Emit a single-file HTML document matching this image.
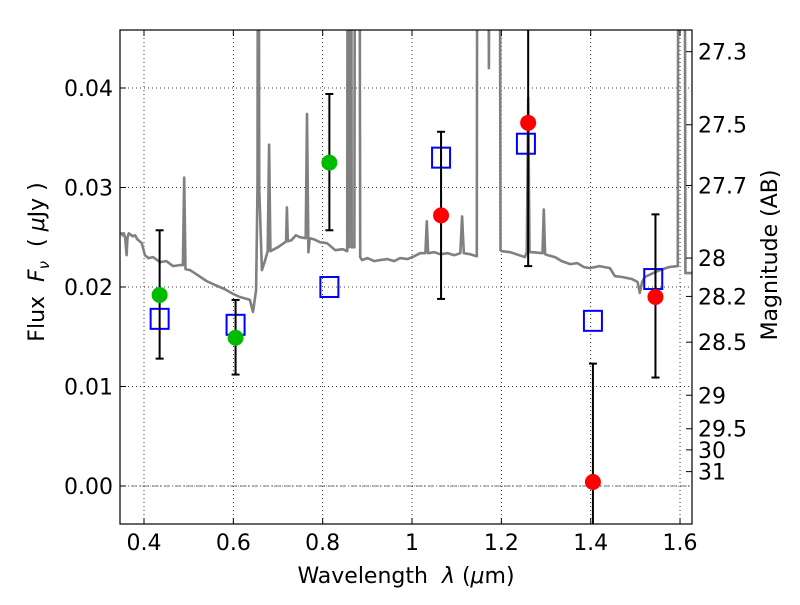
<!DOCTYPE html>
<html><head><meta charset="utf-8"><style>
body{margin:0;background:#fff}
svg text{font-family:"DejaVu Sans","Liberation Sans",sans-serif;fill:#000}
</style></head><body>
<svg id="chart" width="800" height="600" xmlns="http://www.w3.org/2000/svg">
<rect width="800" height="600" fill="#fff"/>
<g id="grid"></g>
<g id="spec"></g>
<g id="marks"></g>
<g id="axes"></g>
<text x="406" y="583" font-size="22" text-anchor="middle">Wavelength&#160;&#160;<tspan font-style="italic">λ</tspan> (<tspan font-style="italic">μ</tspan>m)</text>
<text x="0" y="0" font-size="22" text-anchor="middle" transform="translate(44,262) rotate(-90)">Flux&#160;&#160;<tspan font-style="italic">F</tspan><tspan font-style="italic" font-size="15" dy="5">ν</tspan><tspan dy="-5">&#160;&#160;( </tspan><tspan font-style="italic">μ</tspan>Jy )</text>
<text x="0" y="0" font-size="22" text-anchor="middle" transform="translate(777,255) rotate(-90)">Magnitude (AB)</text>
</svg>
<script>
const specWl=[0.349,0.352,0.355,0.358,0.361,0.363,0.366,0.369,0.375,0.38,0.385,0.39,0.395,0.402,0.41,0.42,0.436,0.45,0.465,0.48,0.487,0.49,0.493,0.503,0.52,0.54,0.559,0.58,0.6,0.615,0.63,0.637,0.644,0.651,0.654,0.656,0.658,0.664,0.67,0.677,0.68,0.683,0.687,0.7,0.716,0.718,0.72,0.722,0.73,0.74,0.75,0.762,0.765,0.768,0.771,0.78,0.794,0.81,0.828,0.845,0.855,0.857,0.859,0.861,0.863,0.865,0.871,0.873,0.875,0.879,0.881,0.884,0.888,0.9,0.915,0.928,0.945,0.96,0.973,0.99,1.005,1.018,1.03,1.033,1.036,1.05,1.063,1.08,1.095,1.108,1.112,1.116,1.13,1.145,1.147,1.149,1.168,1.172,1.176,1.195,1.198,1.201,1.22,1.24,1.253,1.257,1.26,1.263,1.27,1.292,1.295,1.298,1.304,1.32,1.335,1.354,1.37,1.385,1.398,1.42,1.443,1.454,1.47,1.492,1.505,1.51,1.515,1.521,1.535,1.555,1.575,1.595,1.597,1.599,1.609,1.612,1.63];
const specFl=[0.0255,0.0252,0.0254,0.0249,0.0232,0.025,0.0254,0.0253,0.0251,0.0252,0.0248,0.0246,0.0244,0.0232,0.0229,0.023,0.0225,0.0226,0.0221,0.0222,0.0222,0.031,0.0218,0.0217,0.0212,0.0206,0.0202,0.0198,0.0193,0.019,0.0188,0.0187,0.0175,0.0197,0.03,0.1,0.03,0.0217,0.0225,0.0236,0.0343,0.0236,0.0237,0.024,0.0245,0.0246,0.028,0.0246,0.0247,0.0252,0.025,0.0249,0.0374,0.0235,0.0249,0.0248,0.0245,0.0244,0.0237,0.0238,0.0236,0.1,0.024,0.1,0.1,0.024,0.024,0.1,0.1,0.1,0.1,0.023,0.0227,0.0229,0.0226,0.0227,0.0228,0.0226,0.0229,0.0228,0.0231,0.0234,0.0234,0.0266,0.0234,0.0235,0.0233,0.0234,0.0232,0.0234,0.0271,0.0234,0.0233,0.0231,0.1,0.1,0.1,0.042,0.1,0.1,0.0237,0.0236,0.0235,0.0232,0.023,0.0235,0.039,0.0235,0.0235,0.0234,0.0278,0.0233,0.0232,0.023,0.0226,0.0223,0.0224,0.022,0.0219,0.0221,0.0219,0.0211,0.021,0.0208,0.0205,0.0194,0.0205,0.021,0.0213,0.0217,0.022,0.0221,0.1,0.1,0.1,0.0214,0.0214];
const greenWl=[0.435,0.605,0.815];
const greenFl=[0.0192,0.0149,0.0325];
const greenLo=[0.0128,0.0112,0.0257];
const greenHi=[0.0257,0.0187,0.0394];
const redWl=[1.065,1.26,1.405,1.545];
const redFl=[0.0272,0.0365,0.0004,0.0190];
const redLo=[0.0188,0.0221,-0.012,0.0109];
const redHi=[0.0356,0.06,0.0123,0.0273];
const blueWl=[0.435,0.605,0.815,1.065,1.255,1.405,1.54];
const blueFl=[0.0168,0.0162,0.0200,0.0330,0.0344,0.0166,0.0208];
const xTicks=[0.4,0.6,0.8,1.0,1.2,1.4,1.6];
const xTickLabels=["0.4","0.6","0.8","1","1.2","1.4","1.6"];
const yTicks=[0,0.01,0.02,0.03,0.04];
const yTickLabels=["0.00","0.01","0.02","0.03","0.04"];
const magTicks=[27.3,27.5,27.7,28,28.2,28.5,29,29.5,30,31];
const magLabels=["27.3","27.5","27.7","28","28.2","28.5","29","29.5","30","31"];

const L=120,R=692,T=30,B=524;
const X=v=>144+(v-0.4)*446.7;
const Y=v=>486-v*9950;
const NS="http://www.w3.org/2000/svg";
function mk(tag,attrs,parent,txt){const e=document.createElementNS(NS,tag);for(const k in attrs)e.setAttribute(k,attrs[k]);if(txt!==undefined)e.textContent=txt;parent.appendChild(e);return e;}
const svg=document.getElementById('chart');
const grid=document.getElementById('grid'),spec=document.getElementById('spec'),marks=document.getElementById('marks'),axes=document.getElementById('axes');
const cp=mk('clipPath',{id:'cp'},svg);
mk('rect',{x:L,y:T,width:R-L,height:B-T},cp);
spec.setAttribute('clip-path','url(#cp)');marks.setAttribute('clip-path','url(#cp)');

xTicks.forEach((t,i)=>{
 const g=mk('line',{x1:X(t),x2:X(t),y1:T,y2:B,stroke:'#000','stroke-width':0.8,'stroke-dasharray':'1,3'},grid);
 
 mk('line',{x1:X(t),x2:X(t),y1:B,y2:B-6,stroke:'#000'},axes);
 mk('line',{x1:X(t),x2:X(t),y1:T,y2:T+6,stroke:'#000'},axes);
 const lb=mk('text',{x:X(t),y:550,'font-size':22,'text-anchor':'middle'},axes,xTickLabels[i]);
 
});
yTicks.forEach((t,i)=>{
 const g=mk('line',{x1:L,x2:R,y1:Y(t),y2:Y(t),stroke:'#000','stroke-width':0.8,'stroke-dasharray':'1,3'},grid);
 
 mk('line',{x1:L,x2:L+6,y1:Y(t),y2:Y(t),stroke:'#000'},axes);
 const lb=mk('text',{x:L-7,y:Y(t)+8,'font-size':22,'text-anchor':'end'},axes,yTickLabels[i]);
 
});
const zl=mk('line',{x1:L,x2:R,y1:Y(0),y2:Y(0),stroke:'#555','stroke-width':0.8,'stroke-dasharray':'6,2,1,2'},grid);

magTicks.forEach((m,i)=>{
 const f=Math.pow(10,(23.9-m)/2.5);const y=Y(f);
 mk('line',{x1:R,x2:R-6,y1:y,y2:y,stroke:'#000'},axes);
 const lb=mk('text',{x:R+6,y:y+8,'font-size':22},axes,magLabels[i]);
 
});

const pts=specWl.map((w,i)=>X(w).toFixed(1)+','+Y(specFl[i]).toFixed(1)).join(' ');
const pl=mk('polyline',{points:pts,fill:'none',stroke:'#808080','stroke-width':2.6,'stroke-linejoin':'round'},spec);


function errbar(w,lo,hi){const x=X(w);
 mk('line',{x1:x,x2:x,y1:Y(lo),y2:Y(hi),stroke:'#000','stroke-width':2},marks);
 mk('line',{x1:x-4,x2:x+4,y1:Y(lo),y2:Y(lo),stroke:'#000','stroke-width':2},marks);
 mk('line',{x1:x-4,x2:x+4,y1:Y(hi),y2:Y(hi),stroke:'#000','stroke-width':2},marks);}
blueWl.forEach((w,i)=>{const s=mk('rect',{x:X(w)-9,y:Y(blueFl[i])-10,width:18,height:20,fill:'none',stroke:'#0000ff','stroke-width':2},marks);
 });
greenWl.forEach((w,i)=>{errbar(w,greenLo[i],greenHi[i]);
 const c=mk('circle',{cx:X(w),cy:Y(greenFl[i]),r:8,fill:'#00bb00'},marks);
 });
redWl.forEach((w,i)=>{errbar(w,redLo[i],redHi[i]);
 const c=mk('circle',{cx:X(w),cy:Y(redFl[i]),r:8,fill:'#ff0000'},marks);
 });

const fr=mk('rect',{x:L,y:T,width:R-L,height:B-T,fill:'none',stroke:'#000','stroke-width':1.2},axes);

</script>
</body></html>
